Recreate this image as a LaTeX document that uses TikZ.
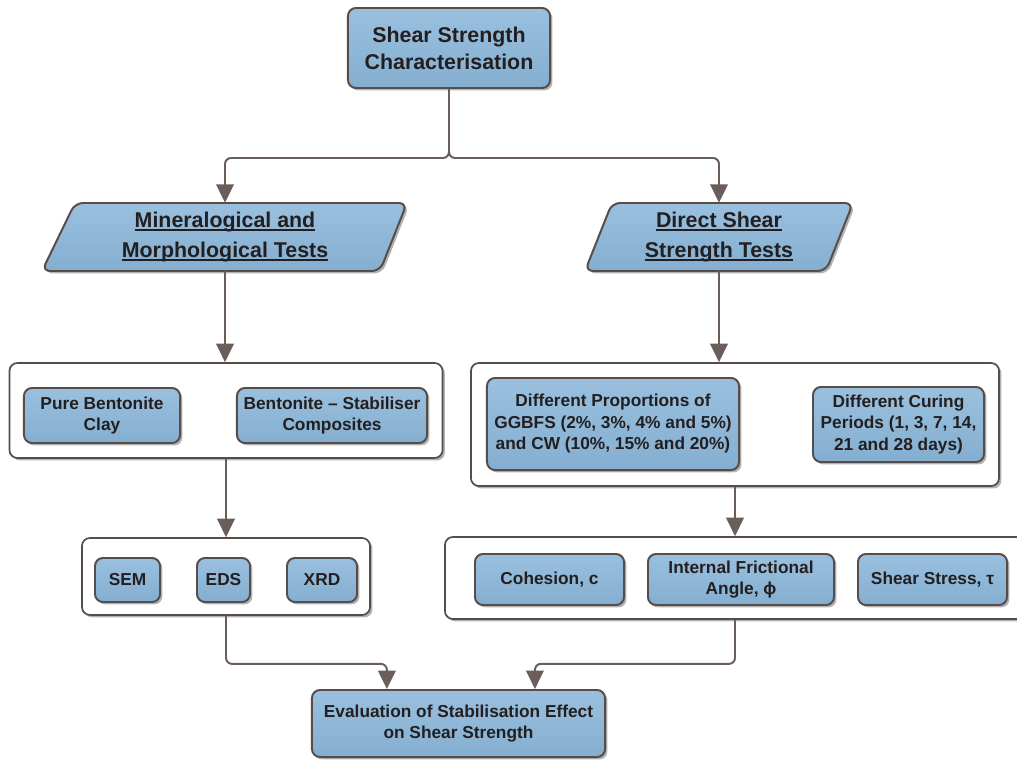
\documentclass[tikz,border=0pt]{standalone}
\usepackage{fontspec}
\setmainfont{Liberation Sans}
\usetikzlibrary{arrows.meta,shadows}
\definecolor{boxtop}{HTML}{9AC0DE}
\definecolor{boxbottom}{HTML}{84AED0}
\definecolor{boxline}{HTML}{564C4A}
\definecolor{linkline}{HTML}{6A5E5B}
\definecolor{ink}{HTML}{231F20}
\newcommand{\lined}[1]{\setbox0\hbox{#1}\rlap{\copy0}\rule[-2.6pt]{\wd0}{1.3pt}}
\begin{document}
\begin{tikzpicture}[x = 0.025cm, y = -0.025cm,
		box/.style = {draw = boxline, line width = 1.4pt, rounded corners = 0.2cm, top color = boxtop, bottom color = boxbottom, drop shadow = {shadow xshift = 0.06cm, shadow yshift = -0.06cm, fill = black, opacity = 0.3}, text = ink, align = center, inner sep = 0pt, font = {\bfseries\fontsize{12.3}{15.3}\selectfont}},
		bigbox/.style = {box, font = {\bfseries\fontsize{15.2}{19.2}\selectfont}},
		frame/.style = {draw = boxline, line width = 1.2pt, rounded corners = 0.2cm, fill = white, drop shadow = {shadow xshift = 0.06cm, shadow yshift = -0.06cm, fill = black, opacity = 0.3}},
		para/.style = {draw = boxline, line width = 1.4pt, rounded corners = 0.2cm, top color = boxtop, bottom color = boxbottom, drop shadow = {shadow xshift = 0.06cm, shadow yshift = -0.06cm, fill = black, opacity = 0.3}},
		paratext/.style = {text = ink, align = center, inner sep = 0pt, minimum height = 1.7cm, font = {\bfseries\fontsize{15.2}{21.3}\selectfont}},
		link/.style = {draw = linkline, line width = 1.4pt, rounded corners = 0.15cm, -{Triangle[length = 0.46cm, width = 0.44cm]}}
	]
	\useasboundingbox (0, 0) rectangle (1017, 761);

	\coordinate (l1) at (42, 271);
	\coordinate (l2) at (75, 203);
	\coordinate (l3) at (407, 203);
	\coordinate (l4) at (380, 271);

	\coordinate (r1) at (585, 271);
	\coordinate (r2) at (612, 203);
	\coordinate (r3) at (853, 203);
	\coordinate (r4) at (826, 271);

	\draw [para] (l1) -- (l2) -- (l3) -- (l4) -- cycle;
	\draw [para] (r1) -- (r2) -- (r3) -- (r4) -- cycle;

	\node [bigbox, minimum width = 5.05cm, minimum height = 2cm] (top) at (449, 48) {Shear Strength\\Characterisation};
	\node [paratext] (mineral) at (225, 237) {\lined{Mineralogical and}\\\lined{Morphological Tests}};
	\node [paratext] (shear) at (719, 237) {\lined{Direct Shear}\\\lined{Strength Tests}};

	\node [frame, minimum width = 10.825cm, minimum height = 2.375cm] (box1) at (226, 410.5) {};
	\node [box, minimum width = 3.9cm, minimum height = 1.375cm] (pure) at (102, 415.5) {Pure Bentonite\\Clay};
	\node [box, minimum width = 4.75cm, minimum height = 1.375cm] (comp) at (332, 415.5) {Bentonite -- Stabiliser\\Composites};

	\node [frame, minimum width = 7.2cm, minimum height = 1.925cm] (box2) at (226, 576.5) {};
	\node [box, minimum width = 1.625cm, minimum height = 1.1cm] (sem) at (127.5, 580) {SEM};
	\node [box, minimum width = 1.325cm, minimum height = 1.1cm] (eds) at (223.5, 580) {EDS};
	\node [box, minimum width = 1.75cm, minimum height = 1.1cm] (xrd) at (322, 580) {XRD};

	\node [frame, minimum width = 13.2cm, minimum height = 3.075cm] (box3) at (735, 424.5) {};
	\node [box, minimum width = 6.3cm, minimum height = 2.3cm] (prop) at (613, 424) {Different Proportions of\\GGBFS (2\%, 3\%, 4\% and 5\%)\\and CW (10\%, 15\% and 20\%)};
	\node [box, minimum width = 4.275cm, minimum height = 1.875cm] (cure) at (898.5, 424.5) {Different Curing\\Periods (1, 3, 7, 14,\\21 and 28 days)};

	\node [frame, minimum width = 14.5cm, minimum height = 2.05cm] (box4) at (735, 578) {};
	\node [box, minimum width = 3.725cm, minimum height = 1.275cm] (coh) at (549.5, 579.5) {Cohesion, c};
	\node [box, minimum width = 4.65cm, minimum height = 1.275cm] (angle) at (741, 579.5) {Internal Frictional\\Angle, ϕ};
	\node [box, minimum width = 3.725cm, minimum height = 1.275cm] (stress) at (932.5, 579.5) {Shear Stress, τ};

	\node [box, minimum width = 7.325cm, minimum height = 1.675cm] (eval) at (458.5, 723.5) {Evaluation of Stabilisation Effect\\on Shear Strength};

	\coordinate (inl) at ([xshift = -1.79cm] eval.north);
	\coordinate (inr) at ([xshift = 1.91cm] eval.north);

	\draw [link] (top.south) -- ++(0, 69) -| (mineral.north);
	\draw [link] (top.south) -- ++(0, 69) -| (shear.north);
	\draw [link] (mineral.south) -- (mineral.south |- box1.north);
	\draw [link] (box1.south) -- (box1.south |- box2.north);
	\draw [link] (shear.south) -- (shear.south |- box3.north);
	\draw [link] (box3.south) -- (box3.south |- box4.north);
	\draw [link] (box2.south) -- ++(0, 48) -| (inl);
	\draw [link] (box4.south) -- ++(0, 44) -| (inr);
\end{tikzpicture}
\end{document}
